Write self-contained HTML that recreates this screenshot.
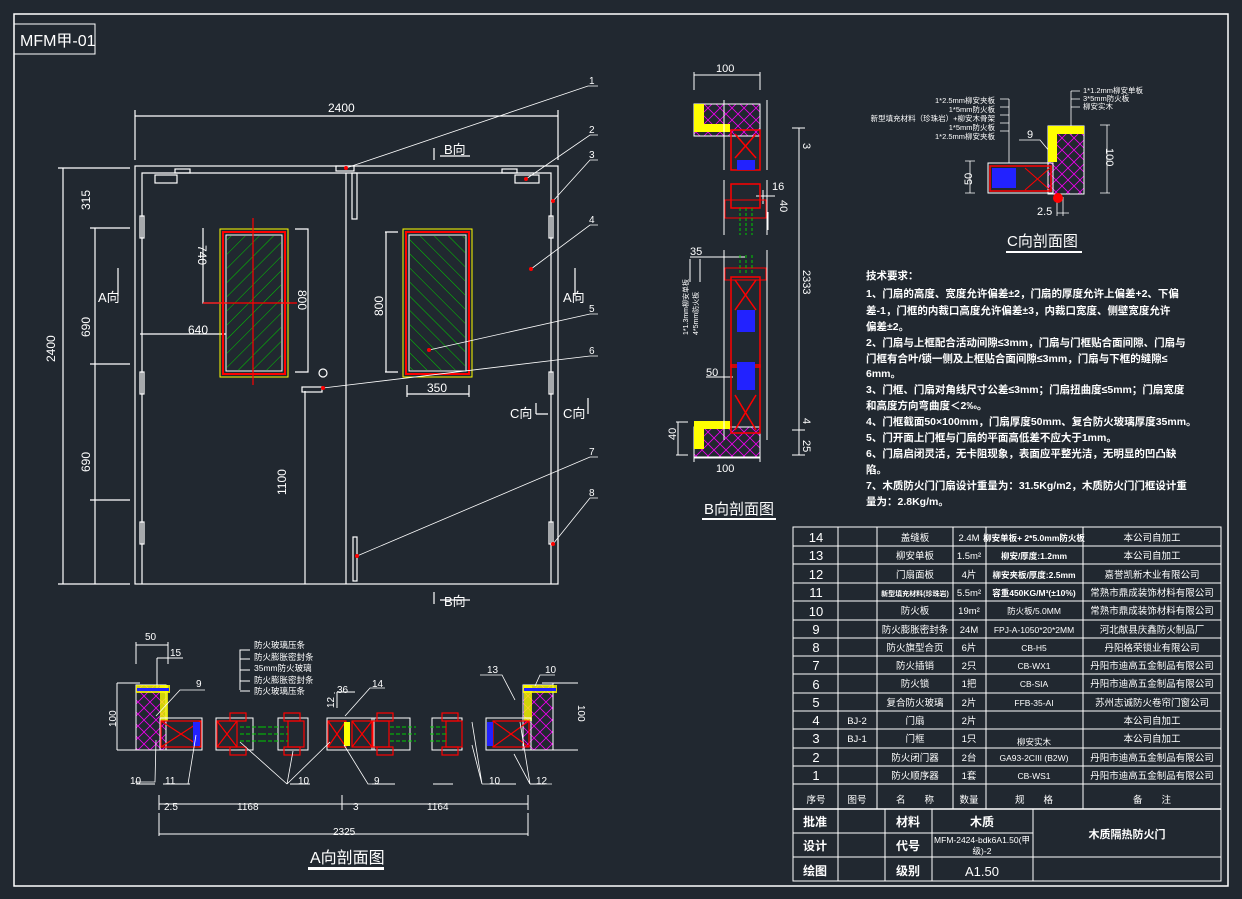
<!DOCTYPE html>
<html><head><meta charset="utf-8"><style>
html,body{margin:0;padding:0;background:#212830;}
svg{display:block;}
text{font-family:"Liberation Sans","Noto Sans CJK SC",sans-serif;fill:#fff;}
</style></head><body>
<svg width="1242" height="899" viewBox="0 0 1242 899" xmlns="http://www.w3.org/2000/svg">
<rect width="1242" height="899" fill="#212830"/>
<g fill="none" stroke="#fff" stroke-width="1">
<rect x="14" y="14" width="1214" height="872" stroke-width="1.5"/>
<rect x="14" y="24" width="81" height="30"/>
</g>
<text x="20" y="46" font-size="16" font-family="Liberation Mono,Noto Sans CJK SC,monospace">MFM甲-01</text>

<!-- ===== Main elevation ===== -->
<g fill="none" stroke="#fff" stroke-width="1.2">
<rect x="135" y="166" width="423" height="418"/>
<path d="M142 584V173H551V584"/>
<line x1="346" y1="173" x2="346" y2="584"/>
<rect x="352" y="173" width="5" height="46"/>
<rect x="336" y="166" width="18" height="5"/>
<rect x="155" y="175" width="22" height="8"/><rect x="175" y="169" width="15" height="4"/>
<rect x="515" y="175" width="24" height="8"/><rect x="502" y="169" width="15" height="4"/>
<rect x="140" y="216" width="4" height="22"/><rect x="140" y="372" width="4" height="22"/><rect x="140" y="522" width="4" height="22"/>
<rect x="549" y="216" width="4" height="22"/><rect x="549" y="372" width="4" height="22"/><rect x="549" y="522" width="4" height="22"/>
<rect x="353" y="537" width="4" height="44"/>
<rect x="302" y="387" width="20" height="5"/><circle cx="323" cy="373" r="4"/>
<!-- dims -->
<path d="M135 116H558M135 110V160M558 110V160"/>
<path d="M63 168V584M58 168H130M58 584H130"/>
<path d="M95 228V584M90 228H130M90 364H130M90 500H130"/>
<path d="M203 228V303H220M203 303H290"/>
<path d="M140 334H253M253 325V334"/>
<path d="M295 229H308V372H295"/>
<path d="M385 232H398M385 372H398M386 232V372"/>
<path d="M407 385V397M469 385V397M407 394H469"/>
<path d="M305 391V584"/>
<path d="M118 268V296M575 268V296"/>
<path d="M440 156H470M434 148V160M434 592V604M440 600H470"/>
<path d="M536 403V414M536 414H548M588 398V414"/>
</g>
<!-- windows -->
<g>
<rect x="220" y="229" width="68" height="148" fill="none" stroke="#ff0" stroke-width="1"/>
<rect x="223" y="232" width="62" height="142" fill="none" stroke="#f00" stroke-width="2"/>
<rect x="226" y="235" width="56" height="136" fill="#212830" stroke="#fff" stroke-width="1"/>
<rect x="403" y="229" width="69" height="148" fill="none" stroke="#ff0" stroke-width="1"/>
<rect x="406" y="232" width="63" height="142" fill="none" stroke="#f00" stroke-width="2"/>
<rect x="409" y="235" width="57" height="136" fill="#212830" stroke="#fff" stroke-width="1"/>
</g>
<defs>
<pattern id="hl" width="10" height="10" patternUnits="userSpaceOnUse" patternTransform="rotate(45)"><line x1="0" y1="0" x2="0" y2="10" stroke="#0c0" stroke-width="1"/></pattern>
<pattern id="hr" width="10" height="10" patternUnits="userSpaceOnUse" patternTransform="rotate(-45)"><line x1="0" y1="0" x2="0" y2="10" stroke="#0c0" stroke-width="1"/></pattern>
<pattern id="mx" width="12" height="12" patternUnits="userSpaceOnUse"><path d="M0 0L12 12M12 0L0 12" stroke="#e0e" stroke-width="0.8"/></pattern>
</defs>
<rect x="227" y="236" width="54" height="134" fill="url(#hl)"/>
<rect x="410" y="236" width="55" height="134" fill="url(#hr)"/>
<g stroke="#f00" stroke-width="1.2"><line x1="253" y1="218" x2="253" y2="385"/><line x1="203" y1="303" x2="297" y2="303"/></g>
<!-- leader lines -->
<g stroke="#fff" stroke-width="0.8" fill="none">
<path d="M346 168L588 86H598"/><path d="M526 179L590 135H598"/><path d="M553 201L590 160H598"/>
<path d="M531 269L590 225H598"/><path d="M429 350L590 314H598"/><path d="M323 388L590 356H598"/>
<path d="M357 556L590 457H598"/><path d="M553 544L590 498H598"/>
</g>
<g fill="#f00"><circle cx="346" cy="168" r="2"/><circle cx="526" cy="179" r="2"/><circle cx="553" cy="201" r="2"/><circle cx="531" cy="269" r="2"/><circle cx="429" cy="350" r="2"/><circle cx="323" cy="388" r="2"/><circle cx="357" cy="556" r="2"/><circle cx="553" cy="544" r="2"/></g>
<g font-size="10">
<text x="589" y="84">1</text><text x="589" y="133">2</text><text x="589" y="158">3</text><text x="589" y="223">4</text><text x="589" y="312">5</text><text x="589" y="354">6</text><text x="589" y="455">7</text><text x="589" y="496">8</text>
</g>
<g font-size="12" font-family="Liberation Mono,monospace">
<text x="328" y="112">2400</text>
<text x="90" y="210" transform="rotate(-90 90 210)">315</text>
<text x="90" y="337" transform="rotate(-90 90 337)">690</text>
<text x="90" y="472" transform="rotate(-90 90 472)">690</text>
<text x="55" y="362" transform="rotate(-90 55 362)">2400</text>
<text x="198" y="245" transform="rotate(90 198 245)">740</text>
<text x="298" y="290" transform="rotate(90 298 290)">800</text>
<text x="383" y="316" transform="rotate(-90 383 316)">800</text>
<text x="188" y="334">640</text>
<text x="427" y="392">350</text>
<text x="286" y="495" transform="rotate(-90 286 495)">1100</text>
</g>
<g font-size="13"><text x="444" y="154">B向</text><text x="444" y="606">B向</text><text x="98" y="302">A向</text><text x="563" y="302">A向</text><text x="510" y="418">C向</text><text x="563" y="418">C向</text></g>

<!-- ===== A section ===== -->
<g stroke="#fff" fill="none" stroke-width="1">
<path d="M136 642V664M168 642V664M136 645H168"/>
<path d="M157 658V690M157 658H183"/>
<path d="M117 683V750M117 683H140M117 750H140"/>
<path d="M553 683V750M542 683H578M542 750H578"/>
<path d="M159 795V810M342 795V810M528 795V810M159 804H528"/>
<path d="M159 813V836M528 813V836M159 834H528"/>
<path d="M136 784H155M163 784H190M290 784H310M372 784H395M433 784H453M496 784H516M530 784H545"/>
<path d="M240 690V650H250M240 659H250M240 670H250M240 681H250M240 691H250"/>
<path d="M337 692H355M337 692V708M335 693H334"/>
</g>
<!-- wall/frame blocks -->
<g stroke="#fff" stroke-width="1">
<rect x="136" y="685" width="30" height="65" fill="url(#mx)"/>
<rect x="136" y="685" width="34" height="8" fill="#ff0" stroke="none" opacity="0.8"/>
<rect x="160" y="685" width="8" height="36" fill="#ff0" stroke="none" opacity="0.8"/>
<rect x="137" y="688" width="32" height="3" fill="#22f" stroke="none"/>
<rect x="523" y="685" width="30" height="65" fill="url(#mx)"/>
<rect x="523" y="685" width="34" height="8" fill="#ff0" stroke="none" opacity="0.8"/>
<rect x="524" y="685" width="8" height="36" fill="#ff0" stroke="none" opacity="0.8"/>
<rect x="524" y="688" width="32" height="3" fill="#22f" stroke="none"/>
</g>
<g fill="none" stroke="#fff" stroke-width="1">
<rect x="160" y="718" width="42" height="32"/><rect x="216" y="718" width="37" height="32"/>
<rect x="278" y="718" width="30" height="32"/><rect x="327" y="718" width="47" height="32"/>
<rect x="372" y="718" width="38" height="32"/><rect x="432" y="718" width="30" height="32"/>
<rect x="486" y="718" width="45" height="32"/>
</g>
<g stroke="#f00" stroke-width="1.2" fill="none">
<rect x="161" y="721" width="40" height="26"/><path d="M161 721L201 747M201 721L161 747"/>
<rect x="217" y="721" width="20" height="26"/><path d="M217 721L237 747M237 721L217 747"/>
<rect x="230" y="713" width="16" height="8"/><rect x="230" y="747" width="16" height="8"/>
<rect x="288" y="721" width="16" height="26"/><rect x="284" y="713" width="16" height="8"/><rect x="284" y="747" width="16" height="8"/>
<rect x="328" y="721" width="18" height="26"/><path d="M328 721L346 747M346 721L328 747"/>
<rect x="352" y="721" width="20" height="26"/><path d="M352 721L372 747M372 721L352 747"/>
<rect x="373" y="721" width="16" height="26"/><rect x="377" y="713" width="16" height="8"/><rect x="377" y="747" width="16" height="8"/>
<rect x="446" y="721" width="16" height="26"/><rect x="442" y="713" width="16" height="8"/><rect x="442" y="747" width="16" height="8"/>
<rect x="493" y="721" width="36" height="26"/><path d="M493 721L529 747M529 721L493 747"/>
</g>
<g stroke="#0c0" stroke-width="1" stroke-dasharray="4 2" fill="none">
<path d="M240 727H265M240 734H265M240 741H265"/><path d="M262 727H288M262 734H288M262 741H288"/>
<path d="M390 727H416M390 734H416M390 741H416"/><path d="M430 727H446M430 734H446M430 741H446"/>
</g>
<rect x="193" y="722" width="7" height="24" fill="#22f"/>
<rect x="487" y="722" width="6" height="24" fill="#22f"/>
<rect x="344" y="722" width="6" height="24" fill="#ff0"/>
<g stroke="#fff" stroke-width="0.8" fill="none">
<path d="M156 716L180 690H205"/><path d="M156 740L155 782H135"/><path d="M196 735L188 784H165"/>
<path d="M240 742L287 784M293 751L287 784M330 742L287 784M290 784H310"/>
<path d="M344 745L368 784H390"/><path d="M345 716L370 688H385"/>
<path d="M472 722L482 784M472 745L482 784M482 784H505"/>
<path d="M515 700L502 675H480"/><path d="M520 722L530 784M514 754L530 784M530 784H552"/>
<path d="M535 686L540 675H555"/>
</g>
<g font-size="10">
<text x="145" y="640">50</text><text x="170" y="656">15</text><text x="196" y="687">9</text>
<text x="130" y="784">10</text><text x="165" y="784">11</text><text x="298" y="784">10</text><text x="374" y="784">9</text>
<text x="489" y="784">10</text><text x="536" y="784">12</text><text x="487" y="673">13</text><text x="545" y="673">10</text>
<text x="372" y="687">14</text><text x="337" y="693">36</text><text x="334" y="708" transform="rotate(-90 334 708)">12</text>
<text x="164" y="810">2.5</text><text x="237" y="810">1168</text><text x="353" y="810">3</text><text x="427" y="810">1164</text><text x="333" y="835">2325</text>
<text x="116" y="727" transform="rotate(-90 116 727)">100</text>
<text x="578" y="705" transform="rotate(90 578 705)">100</text>
</g>
<g font-size="8.5"><text x="254" y="648">防火玻璃压条</text><text x="254" y="660">防火膨胀密封条</text><text x="254" y="671">35mm防火玻璃</text><text x="254" y="683">防火膨胀密封条</text><text x="254" y="694">防火玻璃压条</text></g>
<text x="310" y="863" font-size="16">A向剖面图</text>
<rect x="308" y="867" width="76" height="3" fill="#fff"/>

<!-- ===== B section ===== -->
<g stroke="#fff" fill="none" stroke-width="1">
<path d="M694 72V90M760 72V90M694 75H760"/>
<path d="M694 448V462M760 448V462M694 458H760"/>
<path d="M799 128V455M792 128H805M792 430H805M792 455H805"/>
<path d="M678 422V455M676 422H688M676 455H688"/>
<path d="M690 259V282M700 259V282M690 257H745"/>
<path d="M706 377H733"/><path d="M756 196H775M763 190V204M768 212V230"/>
</g>
<g stroke="#fff" stroke-width="1">
<rect x="694" y="104" width="66" height="32" fill="url(#mx)"/>
<rect x="694" y="104" width="10" height="28" fill="#ff0" stroke="none"/><rect x="694" y="124" width="36" height="8" fill="#ff0" stroke="none"/>
<rect x="694" y="427" width="66" height="30" fill="url(#mx)"/>
<rect x="694" y="421" width="10" height="28" fill="#ff0" stroke="none"/><rect x="694" y="421" width="36" height="8" fill="#ff0" stroke="none"/>
</g>
<g stroke="#f00" stroke-width="1.5" fill="none">
<rect x="731" y="130" width="29" height="40"/><path d="M735 134L756 158M756 134L735 158"/>
<rect x="731" y="184" width="29" height="24"/><rect x="725" y="200" width="41" height="18" stroke-width="1"/>
<rect x="731" y="277" width="29" height="90"/><rect x="725" y="268" width="41" height="12" stroke-width="1"/><path d="M735 280L756 310M756 280L735 310"/>
<rect x="731" y="365" width="29" height="68"/><path d="M735 395L756 430M756 395L735 430"/>
</g>
<g fill="#22f"><rect x="737" y="160" width="18" height="10"/><rect x="737" y="310" width="18" height="22"/><rect x="737" y="362" width="18" height="28"/></g>
<g stroke="#0c0" stroke-dasharray="3 2" fill="none"><path d="M740 208V235M746 208V235M752 208V235M740 255V275M746 255V275M752 255V275"/></g>
<g stroke="#fff" fill="none"><path d="M724 100V170M767 100V170M724 180V235M767 180V235M724 250V365M767 250V365M724 365V440M767 365V440"/></g>
<g font-size="11">
<text x="716" y="72">100</text><text x="716" y="472">100</text><text x="772" y="190">16</text>
<text x="690" y="255">35</text><text x="706" y="376">50</text>
<text x="803" y="143" transform="rotate(90 803 143)">3</text>
<text x="803" y="270" transform="rotate(90 803 270)">2333</text>
<text x="803" y="418" transform="rotate(90 803 418)">4</text>
<text x="803" y="440" transform="rotate(90 803 440)">25</text>
<text x="780" y="200" transform="rotate(90 780 200)">40</text>
<text x="676" y="440" transform="rotate(-90 676 440)">40</text>
</g>
<text x="688" y="335" font-size="7" transform="rotate(-90 688 335)">1*1.3mm柳安单板</text>
<text x="698" y="335" font-size="7" transform="rotate(-90 698 335)">4*5mm防火板</text>
<text x="704" y="514" font-size="15">B向剖面图</text>
<rect x="702" y="518" width="74" height="2" fill="#fff"/>

<!-- ===== C section ===== -->
<g stroke="#fff" fill="none" stroke-width="0.8">
<path d="M1009 99V163M1000 99H1009M1000 107H1009M1000 115H1009M1000 123H1009M1000 131H1009"/>
<path d="M1071 91V135M1071 91H1080M1071 99H1080M1071 107H1080"/>
<path d="M1019 140L1040 140L1050 152"/>
<path d="M970 161V193M965 161H975M965 193H975"/><path d="M1107 125V193M1100 125H1110M1100 193H1110"/>
<path d="M1057 197V216M1057 213H1069M1063 197V216"/>
</g>
<rect x="1048" y="126" width="36" height="68" fill="url(#mx)" stroke="#fff"/>
<rect x="1048" y="126" width="36" height="8" fill="#ff0"/><rect x="1048" y="126" width="9" height="36" fill="#ff0"/>
<rect x="988" y="163" width="65" height="30" fill="none" stroke="#fff"/>
<rect x="990" y="166" width="61" height="25" fill="none" stroke="#f00" stroke-width="1.5"/>
<path d="M1025 168L1050 190M1050 168L1025 190" stroke="#f00"/>
<rect x="992" y="168" width="24" height="20" fill="#22f"/>
<circle cx="1058" cy="198" r="5" fill="#f00"/>
<g font-size="7.5" text-anchor="end"><text x="995" y="103">1*2.5mm柳安夹板</text><text x="995" y="112">1*5mm防火板</text><text x="995" y="121">新型填充材料（珍珠岩）+柳安木骨架</text><text x="995" y="130">1*5mm防火板</text><text x="995" y="139">1*2.5mm柳安夹板</text></g>
<g font-size="7.5"><text x="1083" y="93">1*1.2mm柳安单板</text><text x="1083" y="101">3*5mm防火板</text><text x="1083" y="109">柳安实木</text></g>
<g font-size="11"><text x="1027" y="138">9</text><text x="1037" y="215">2.5</text>
<text x="972" y="185" transform="rotate(-90 972 185)">50</text>
<text x="1106" y="148" transform="rotate(90 1106 148)">100</text></g>
<text x="1007" y="246" font-size="15">C向剖面图</text>
<rect x="1006" y="251" width="76" height="2" fill="#fff"/>

<!-- ===== Tech requirements ===== -->
<g font-size="10.5" font-weight="bold">
<text x="866" y="279">技术要求：</text>
<text x="866" y="297">1、门扇的高度、宽度允许偏差±2，门扇的厚度允许上偏差+2、下偏</text>
<text x="866" y="314">差-1，门框的内裁口高度允许偏差±3，内裁口宽度、侧壁宽度允许</text>
<text x="866" y="330">偏差±2。</text>
<text x="866" y="346">2、门扇与上框配合活动间隙≤3mm，门扇与门框贴合面间隙、门扇与</text>
<text x="866" y="362">门框有合叶/锁一侧及上框贴合面间隙≤3mm，门扇与下框的缝隙≤</text>
<text x="866" y="377">6mm。</text>
<text x="866" y="393">3、门框、门扇对角线尺寸公差≤3mm；门扇扭曲度≤5mm；门扇宽度</text>
<text x="866" y="409">和高度方向弯曲度＜2‰。</text>
<text x="866" y="425">4、门框截面50×100mm，门扇厚度50mm、复合防火玻璃厚度35mm。</text>
<text x="866" y="441">5、门开面上门框与门扇的平面高低差不应大于1mm。</text>
<text x="866" y="457">6、门扇启闭灵活，无卡阻现象，表面应平整光洁，无明显的凹凸缺</text>
<text x="866" y="473">陷。</text>
<text x="866" y="489">7、木质防火门门扇设计重量为：31.5Kg/m2，木质防火门门框设计重</text>
<text x="866" y="505">量为：2.8Kg/m。</text>
</g>

<!-- ===== Table ===== -->
<g stroke="#fff" stroke-width="1" fill="none">
<rect x="793" y="527" width="428" height="354"/>
<path d="M793 546H1221M793 564H1221M793 583H1221M793 601H1221M793 620H1221M793 638H1221M793 656H1221M793 674H1221M793 693H1221M793 711H1221M793 729H1221M793 748H1221M793 766H1221M793 784H1221"/>
<path d="M793 809H1221" stroke-width="1.5"/>
<path d="M838 527V809M877 527V809M953 527V809M986 527V809M1083 527V809"/>
<path d="M793 833H1033M793 857H1221M838 809V881M885 809V881M932 809V881M1033 809V881"/>
</g>
<g font-size="13" text-anchor="middle">
<text x="816" y="542">14</text><text x="816" y="560">13</text><text x="816" y="579">12</text><text x="816" y="597">11</text><text x="816" y="616">10</text><text x="816" y="634">9</text><text x="816" y="652">8</text><text x="816" y="670">7</text><text x="816" y="689">6</text><text x="816" y="707">5</text><text x="816" y="725">4</text><text x="816" y="743">3</text><text x="816" y="762">2</text><text x="816" y="780">1</text>
</g>
<g font-size="9.5" text-anchor="middle">
<text x="857" y="724">BJ-2</text><text x="857" y="742">BJ-1</text>
<text x="915" y="541">盖缝板</text><text x="915" y="559">柳安单板</text><text x="915" y="578">门扇面板</text><text x="915" y="596" font-size="7" font-weight="bold">新型填充材料(珍珠岩)</text><text x="915" y="614">防火板</text><text x="915" y="633">防火膨胀密封条</text><text x="915" y="651">防火旗型合页</text><text x="915" y="669">防火插销</text><text x="915" y="687">防火锁</text><text x="915" y="706">复合防火玻璃</text><text x="915" y="724">门扇</text><text x="915" y="742">门框</text><text x="915" y="761">防火闭门器</text><text x="915" y="779">防火顺序器</text>
<text x="969" y="541">2.4M</text><text x="969" y="559">1.5m²</text><text x="969" y="578">4片</text><text x="969" y="596">5.5m²</text><text x="969" y="614">19m²</text><text x="969" y="633">24M</text><text x="969" y="651">6片</text><text x="969" y="669">2只</text><text x="969" y="687">1把</text><text x="969" y="706">2片</text><text x="969" y="724">2片</text><text x="969" y="742">1只</text><text x="969" y="761">2台</text><text x="969" y="779">1套</text>
<text x="1152" y="541">本公司自加工</text><text x="1152" y="559">本公司自加工</text><text x="1152" y="578">嘉誉凯新木业有限公司</text><text x="1152" y="596">常熟市鼎成装饰材料有限公司</text><text x="1152" y="614">常熟市鼎成装饰材料有限公司</text><text x="1152" y="633">河北献县庆鑫防火制品厂</text><text x="1152" y="651">丹阳格荣锁业有限公司</text><text x="1152" y="669">丹阳市迪高五金制品有限公司</text><text x="1152" y="687">丹阳市迪高五金制品有限公司</text><text x="1152" y="706">苏州志诚防火卷帘门窗公司</text><text x="1152" y="724">本公司自加工</text><text x="1152" y="742">本公司自加工</text><text x="1152" y="761">丹阳市迪高五金制品有限公司</text><text x="1152" y="779">丹阳市迪高五金制品有限公司</text>
<text x="816" y="803">序号</text><text x="857" y="803">图号</text><text x="915" y="803">名　　称</text><text x="969" y="803">数量</text><text x="1034" y="803">规　　格</text><text x="1152" y="803">备　　注</text>
</g>
<g font-size="8.5" text-anchor="middle">
<text x="1034" y="541" font-weight="bold">柳安单板+ 2*5.0mm防火板</text><text x="1034" y="559" font-weight="bold">柳安/厚度:1.2mm</text><text x="1034" y="578" font-weight="bold">柳安夹板/厚度:2.5mm</text><text x="1034" y="596" font-weight="bold">容重450KG/M³(±10%)</text>
<text x="1034" y="614">防火板/5.0MM</text><text x="1034" y="633">FPJ-A-1050*20*2MM</text><text x="1034" y="651">CB-H5</text><text x="1034" y="669">CB-WX1</text><text x="1034" y="687">CB-SIA</text><text x="1034" y="706">FFB-35-AI</text><text x="1034" y="745">柳安实木</text><text x="1034" y="761">GA93-2CIII (B2W)</text><text x="1034" y="779">CB-WS1</text>
</g>
<g font-size="12" font-weight="bold" text-anchor="middle">
<text x="815" y="826">批准</text><text x="815" y="850">设计</text><text x="815" y="875">绘图</text>
<text x="908" y="826">材料</text><text x="908" y="850">代号</text><text x="908" y="875">级别</text>
<text x="982" y="826">木质</text><text x="1127" y="838" font-size="11">木质隔热防火门</text>
</g>
<text x="982" y="843" font-size="8.5" text-anchor="middle">MFM-2424-bdk6A1.50(甲</text>
<text x="982" y="854" font-size="8.5" text-anchor="middle">级)-2</text>
<text x="982" y="876" font-size="13" text-anchor="middle">A1.50</text>
</svg>
</body></html>
